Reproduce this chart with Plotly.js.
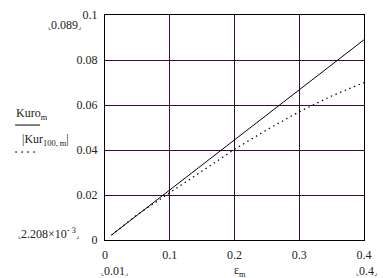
<!DOCTYPE html>
<html>
<head>
<meta charset="utf-8">
<script src="https://cdn.plot.ly/plotly-3.0.1.min.js"></script>
<style>html,body{margin:0;padding:0;background:#fff;}#chart{width:388px;height:278px;}</style>
</head>
<body>
<div id="chart"></div>
<script>
var eps = [0.01, 0.05, 0.1, 0.15, 0.2, 0.25, 0.3, 0.35, 0.4];
var kuro = [0.002208, 0.0111, 0.0222, 0.0334, 0.0445, 0.0557, 0.0668, 0.0779, 0.089];
var kur100 = [0.002208, 0.0113, 0.021, 0.0307, 0.0403, 0.0490, 0.057, 0.0640, 0.0700];
var xTicks = [0, 0.1, 0.2, 0.3, 0.4];
var xTickText = ["0", "0.1", "0.2", "0.3", "0.4"];
var yTicks = [0, 0.02, 0.04, 0.06, 0.08, 0.1];
var yTickText = ["0", "0.02", "0.04", "0.06", "0.08", "0.1"];

var font = {family: "Liberation Serif, Times New Roman, serif", size: 12, color: "#222"};
var grid = "#3a0a3a";
var L = "<span style='font-size:7px'>⌞</span>";
var R = "<span style='font-size:7px'>⌟</span>";

var traces = [
  {x: eps, y: kuro, mode: "lines", line: {color: "#000", width: 1}, hoverinfo: "skip"},
  {x: eps, y: kur100, mode: "lines", line: {color: "#000", width: 1.2, dash: "1.5px,3.5px"}, hoverinfo: "skip"}
];

var layout = {
  width: 388, height: 278,
  margin: {l: 105, r: 24, t: 15, b: 38},
  paper_bgcolor: "#fff", plot_bgcolor: "#fff",
  showlegend: false,
  font: font,
  xaxis: {
    range: [0, 0.4], tickmode: "array", tickvals: xTicks, ticktext: xTickText,
    showgrid: true, gridcolor: grid, gridwidth: 1, zeroline: false,
    showline: true, linecolor: "#000", linewidth: 1, mirror: true,
    ticks: "", ticklabelstandoff: 4, tickfont: font, fixedrange: true
  },
  yaxis: {
    range: [0, 0.1], tickmode: "array", tickvals: yTicks, ticktext: yTickText,
    showgrid: true, gridcolor: grid, gridwidth: 1, zeroline: false,
    showline: true, linecolor: "#000", linewidth: 1, mirror: true,
    ticks: "", ticklabelstandoff: 4, tickfont: font, fixedrange: true
  },
  shapes: [
    {type: "line", xref: "paper", yref: "paper", x0: -0.347, x1: -0.251, y0: 0.511, y1: 0.511, line: {color: "#000", width: 1}},
    {type: "line", xref: "paper", yref: "paper", x0: -0.347, x1: -0.265, y0: 0.391, y1: 0.391, line: {color: "#000", width: 1, dash: "2px,4px"}}
  ],
  annotations: [
    {xref: "paper", yref: "paper", x: -0.158, y: 0.956, text: L + "0.089" + R, showarrow: false, font: font, xanchor: "center", yanchor: "middle"},
    {xref: "paper", yref: "paper", x: -0.22, y: 0.027, text: L + "2.208×10<sup>- 3</sup>" + R, showarrow: false, font: font, xanchor: "center", yanchor: "middle"},
    {xref: "paper", yref: "paper", x: 0.035, y: -0.138, text: L + "0.01" + R, showarrow: false, font: font, xanchor: "center", yanchor: "middle"},
    {xref: "paper", yref: "paper", x: 1.01, y: -0.138, text: L + "0.4" + R, showarrow: false, font: font, xanchor: "center", yanchor: "middle"},
    {xref: "paper", yref: "paper", x: 0.521, y: -0.138, text: "ε<sub>m</sub>", showarrow: false, font: font, xanchor: "center", yanchor: "middle"},
    {xref: "paper", yref: "paper", x: -0.282, y: 0.56, text: "Kuro<sub>m</sub>", showarrow: false, font: font, xanchor: "center", yanchor: "middle"},
    {xref: "paper", yref: "paper", x: -0.228, y: 0.444, text: "|Kur<sub>100, m</sub>|", showarrow: false, font: font, xanchor: "center", yanchor: "middle"}
  ]
};

Plotly.newPlot("chart", traces, layout, {displayModeBar: false, staticPlot: true});
</script>
</body>
</html>
